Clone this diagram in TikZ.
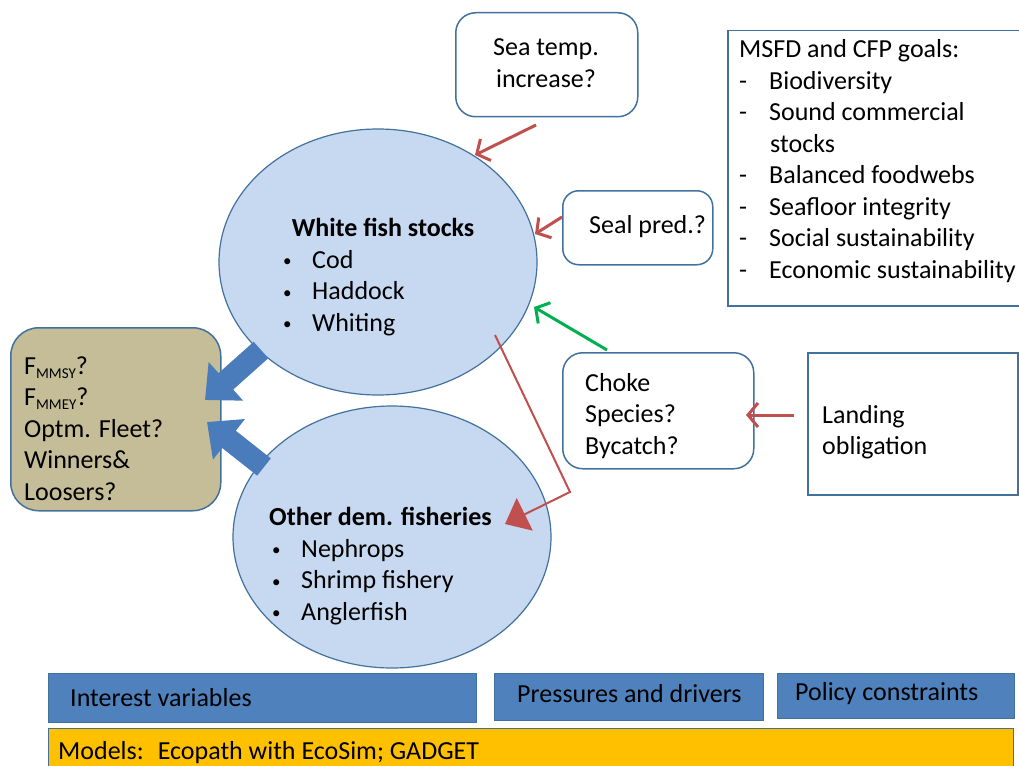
\documentclass[tikz,border=0pt]{standalone}
\usepackage{fontspec}
\setmainfont{Carlito}
\usetikzlibrary{arrows.meta,shapes.geometric}

\definecolor{edgeblue}{HTML}{41719C}
\definecolor{ovalfill}{HTML}{C6D9F1}
\definecolor{barblue}{HTML}{4F81BD}
\definecolor{olivefill}{HTML}{C4BD97}
\definecolor{goldfill}{HTML}{FFC000}
\definecolor{redarrow}{HTML}{C0504D}
\definecolor{greenarrow}{HTML}{00B050}
\definecolor{bigarrow}{HTML}{4A7CBB}

\newcommand{\bul}{\makebox[6pt][l]{\raisebox{1.5pt}{\fontsize{17}{17}\selectfont\textbullet}}\hspace{23pt}}
\newcommand{\dsh}{-\hspace{22pt}}
% stacked lines whose reference point is the first baseline
\newcommand{\stackl}[1]{\begin{tabular}[t]{@{}l@{}}#1\end{tabular}}
\newcommand{\stackc}[1]{\begin{tabular}[t]{@{}c@{}}#1\end{tabular}}

\begin{document}
\begin{tikzpicture}[x=1pt,y=-1pt,
  every node/.style={font=\fontsize{26}{31.5}\selectfont, inner sep=0pt, text=black},
  oval/.style={ellipse, draw=edgeblue, fill=ovalfill, line width=1.2pt},
  roundbox/.style={draw=edgeblue, fill=white, rounded corners=20pt, line width=1.5pt, anchor=north west},
  plainbox/.style={draw=edgeblue, fill=white, line width=1.5pt, anchor=north west},
  bar/.style={draw=edgeblue, fill=barblue, line width=1pt, anchor=north west},
  txt/.style={anchor=base west},
  thinarrow/.style={draw=redarrow, line width=3pt, -{Straight Barb[length=10pt,width=24pt,line width=3pt]}},
  blockarrow/.style={draw=bigarrow, line width=22pt, line cap=butt, -{Triangle[length=28pt,width=50pt]}},
]
\useasboundingbox (0,0) rectangle (1019,765);

% stock ovals
\node[oval, minimum width=318pt, minimum height=266pt] (wfs) at (378,262) {};
\node[oval, minimum width=318pt, minimum height=262pt] (odf) at (392,537) {};

% outcome box
\node[draw=edgeblue, fill=olivefill, line width=1.5pt, rounded corners=28pt, anchor=north west,
      minimum width=210pt, minimum height=183pt] (out) at (10,327) {};

% driver boxes
\node[roundbox, minimum width=182pt, minimum height=104pt] (sea) at (455,12) {};
\node[roundbox, minimum width=150pt, minimum height=74pt, rounded corners=16pt] (seal) at (562,190) {};
\node[roundbox, minimum width=191pt, minimum height=116pt] (choke) at (562,352) {};
\node[plainbox, minimum width=210pt, minimum height=142pt] (land) at (807,352) {};
\node[plainbox, minimum width=320pt, minimum height=275pt] (goals) at (727,30) {};

% legend bars
\node[bar, minimum width=428pt, minimum height=49pt] (iv) at (48,673) {};
\node[bar, minimum width=269pt, minimum height=47pt] (pd) at (494,673) {};
\node[bar, minimum width=237pt, minimum height=45pt] (pc) at (777,673) {};
\node[draw=edgeblue, fill=goldfill, line width=1pt, anchor=north west,
      minimum width=965pt, minimum height=45pt] (mod) at (48,728) {};

% connector end points
\coordinate (a1t) at (261,350);
\coordinate (a1h) at (205,400);
\coordinate (a2t) at (264,467);
\coordinate (a2h) at (207,422);
\coordinate (seaS) at (536,125);
\coordinate (seaE) at (475,155);
\coordinate (sealS) at (562,217);
\coordinate (sealE) at (535,234);
\coordinate (chS) at (607,350);
\coordinate (chE) at (534,307);
\coordinate (landS) at (794,415);
\coordinate (landE) at (746,415);
\coordinate (bcS) at (495,335);
\coordinate (bcK) at (570,492);
\coordinate (bcE) at (505,524);

% block arrows into the outcome box
\draw[blockarrow] (a1t) -- (a1h);
\draw[blockarrow] (a2t) -- (a2h);

% pressure arrows
\draw[thinarrow] (seaS) -- (seaE);
\draw[thinarrow] (sealS) -- (sealE);
\draw[thinarrow, draw=greenarrow] (chS) -- (chE);
\draw[thinarrow] (landS) -- (landE);
\draw[draw=redarrow, line width=2pt, -{Triangle[length=22pt,width=36pt]}] (bcS) -- (bcK) -- (bcE);

% texts
\node[anchor=base, font=\fontsize{26}{31.5}\selectfont\bfseries] (wfsT) at (383,236) {White fish stocks};
\node[txt] (wfsL) at (283,268) {\stackl{\bul Cod\\ \bul Haddock\\ \bul Whiting}};

\node[txt, font=\fontsize{26}{31.5}\selectfont\bfseries] (odfT) at (269,525) {Other dem. fisheries};
\node[txt] (odfL) at (272,557) {\stackl{\bul Nephrops\\ \bul Shrimp fishery\\ \bul Anglerfish}};

\node[txt] (outT) at (24,374) {\stackl{F\raisebox{-4pt}{\fontsize{15}{15}\selectfont MMSY}?\\
  F\raisebox{-4pt}{\fontsize{15}{15}\selectfont MMEY}?\\ Optm. Fleet?\\ Winners\&\\ Loosers?}};

\node[anchor=base] (seaT) at (546,56) {\stackc{Sea temp.\\ increase?}};
\node[txt] (sealT) at (589,233) {Seal pred.?};
\node[txt] (chokeT) at (585,391) {\stackl{Choke\\ Species?\\ Bycatch?}};
\node[txt] (landT) at (822,423) {\stackl{Landing\\ obligation}};

\node[txt] (goalsT) at (739,58) {\stackl{MSFD and CFP goals:\\
  \dsh Biodiversity\\
  \dsh Sound commercial\\
  \hspace{31pt}stocks\\
  \dsh Balanced foodwebs\\
  \dsh Seafloor integrity\\
  \dsh Social sustainability\\
  \dsh Economic sustainability}};

\node[txt] (ivT) at (70,706) {Interest variables};
\node[txt] (pdT) at (517,702) {Pressures and drivers};
\node[txt] (pcT) at (795,700) {Policy constraints};
\node[txt] (modT) at (58,759) {Models:\hspace{14pt}Ecopath with EcoSim; GADGET};
\end{tikzpicture}
\end{document}
